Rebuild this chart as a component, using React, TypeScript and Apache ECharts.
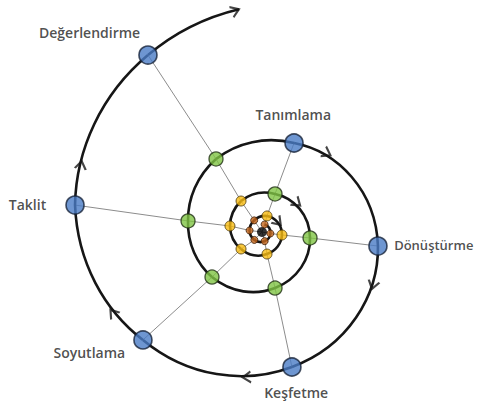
import React, { useEffect, useRef } from 'react';
import * as echarts from 'echarts';

// Stage names on the outer turn (one per spoke)
const stageNames = ['Tanımlama', 'Dönüştürme', 'Keşfetme', 'Soyutlama', 'Taklit', 'Değerlendirme'];

// Each ring: radius (px-units) and angle (deg, counter-clockwise from east)
const blueRadius = [94.6, 116.8, 138.3, 160.7, 188.9, 210.5];
const blueAngle = [70.2, 353.1, 282.5, 222.2, 171.8, 122.8];
const greenRadius = [40.2, 48.4, 57.5, 67.3, 74.8, 86.3];
const greenAngle = [71.1, 352.9, 283.1, 222.0, 171.5, 122.2];
const yellowRadius = [16.8, 20.2, 22.6, 27.0, 32.6, 37.4];
const yellowAngle = [72.6, 351.5, 282.8, 219.0, 169.4, 124.1];
const orangeRadius = [8.0, 8.5, 9.5, 11.0, 12.5, 14.0];
const orangeAngle = [71.0, 350.0, 286.0, 226.0, 173.0, 124.0];

// End of the spiral (arrow tip)
const spiralEnd = [224, 95.9];

// Arrowheads along the spiral: [radius, angle]
const arrowPoints = [
  [102, 50.5],
  [123, 334.5],
  [146, 264.0],
  [169.6, 208.5],
  [193, 159.7],
  [45.5, 39.6],
  [18.9, 32.0],
];
const endArrow = [223, 96.9];

const ring = (r: number[], a: number[]) => r.map((v, i) => [v, a[i]]);

export default function App() {
  const ref = useRef<HTMLDivElement>(null);

  useEffect(() => {
    if (!ref.current) return;
    const chart = echarts.init(ref.current, null, { renderer: 'svg' });

    const orange = ring(orangeRadius, orangeAngle);
    const yellow = ring(yellowRadius, yellowAngle);
    const green = ring(greenRadius, greenAngle);
    const blue = ring(blueRadius, blueAngle);

    const spiralPts = [...orange, ...yellow, ...green, ...blue, spiralEnd];
    // consecutive segments of the spiral: [r1, a1, r2, a2]
    const segments = spiralPts.slice(0, -1).map((p, i) => [p[0], p[1], spiralPts[i + 1][0], spiralPts[i + 1][1]]);

    const spokeSeries = stageNames.map((_, i) => ({
      type: 'line',
      coordinateSystem: 'polar',
      data: [[0, orangeAngle[i]], orange[i], yellow[i], green[i], blue[i]],
      symbol: 'none',
      lineStyle: { color: '#8c8c8c', width: 1 },
      silent: true,
      z: 1,
    }));

    const labelPos: Record<string, any> = {
      'Tanımlama': { position: [9, -19], align: 'center', size: 14 },
      'Dönüştürme': { position: [26, 9], align: 'left', size: 13 },
      'Keşfetme': { position: [14, 35], align: 'center', size: 14 },
      'Soyutlama': { position: [-8, 22], align: 'right', size: 14 },
      'Taklit': { position: [-19, 9], align: 'right', size: 14 },
      'Değerlendirme': { position: [2, -13], align: 'right', size: 14 },
    };

    const chevron = 'path://M0,0L10,6L0,12';

    const renderSpiral = (_params: any, api: any) => {
      const r1 = api.value(0), a1 = api.value(1), r2 = api.value(2), a2 = api.value(3);
      const c = api.coord([0, 0]);
      const p1 = api.coord([r1, a1]);
      const p2 = api.coord([r2, a2]);
      const span = (((a1 - a2) % 360) + 360) % 360;
      const d = (span * Math.PI) / 180;
      const psi = Math.atan(Math.log(r2 / r1) / d);
      const k = ((4 / 3) * Math.tan(d / 4)) / Math.cos(psi);
      const handle = (p: number[]) => {
        const dx = p[0] - c[0], dy = p[1] - c[1];
        const rp = Math.hypot(dx, dy);
        const ux = dx / rp, uy = dy / rp;
        const tx = -uy, ty = ux; // clockwise direction on screen
        const hx = Math.cos(psi) * tx + Math.sin(psi) * ux;
        const hy = Math.cos(psi) * ty + Math.sin(psi) * uy;
        return [hx * k * rp, hy * k * rp];
      };
      const h1 = handle(p1);
      const h2 = handle(p2);
      return {
        type: 'bezierCurve',
        shape: {
          x1: p1[0], y1: p1[1],
          x2: p2[0], y2: p2[1],
          cpx1: p1[0] + h1[0], cpy1: p1[1] + h1[1],
          cpx2: p2[0] - h2[0], cpy2: p2[1] - h2[1],
        },
        style: { stroke: '#161616', lineWidth: 2.6, fill: 'none' },
      };
    };

    const option: any = {
      animation: false,
      polar: { center: [262, 232], radius: 230 },
      radiusAxis: {
        type: 'value', min: 0, max: 230,
        axisLine: { show: false }, axisTick: { show: false },
        axisLabel: { show: false }, splitLine: { show: false },
      },
      angleAxis: {
        type: 'value', min: 0, max: 360, startAngle: 0, clockwise: false,
        axisLine: { show: false }, axisTick: { show: false },
        axisLabel: { show: false }, splitLine: { show: false },
      },
      series: [
        ...spokeSeries,
        {
          type: 'custom',
          coordinateSystem: 'polar',
          data: segments,
          renderItem: renderSpiral,
          silent: true,
          z: 2,
        },
        {
          type: 'scatter',
          coordinateSystem: 'polar',
          data: [...arrowPoints.map((p) => ({ value: p, symbolRotate: p[1] - 90 + 10 })),
            { value: endArrow, symbolRotate: 22 }],
          symbol: chevron,
          symbolSize: [8, 11],
          itemStyle: { color: 'transparent', borderColor: '#161616', borderWidth: 2 },
          silent: true,
          z: 3,
        },
        {
          type: 'scatter',
          coordinateSystem: 'polar',
          data: [[0, 0]],
          symbolSize: 10,
          itemStyle: { color: '#000000' },
          silent: true,
          z: 4,
        },
        {
          type: 'scatter',
          coordinateSystem: 'polar',
          data: orange,
          symbolSize: 7,
          itemStyle: { color: '#c4661c', borderColor: '#3a1c06', borderWidth: 1 },
          silent: true,
          z: 4,
        },
        {
          type: 'scatter',
          coordinateSystem: 'polar',
          data: yellow,
          symbolSize: 10,
          itemStyle: { color: '#f7bb12', borderColor: '#4a3608', borderWidth: 1 },
          silent: true,
          z: 4,
        },
        {
          type: 'scatter',
          coordinateSystem: 'polar',
          data: green,
          symbolSize: 14,
          itemStyle: { color: '#80c444', borderColor: '#1e2e12', borderWidth: 1.3 },
          silent: true,
          z: 4,
        },
        {
          type: 'scatter',
          coordinateSystem: 'polar',
          data: blue.map((v, i) => ({
            name: stageNames[i],
            value: v,
            label: {
              show: true,
              formatter: '{b}',
              position: labelPos[stageNames[i]].position,
              align: labelPos[stageNames[i]].align,
              verticalAlign: 'middle',
              fontFamily: 'Open Sans',
              fontWeight: 600,
              fontSize: labelPos[stageNames[i]].size,
              color: '#222222',
            },
          })),
          symbolSize: 18,
          itemStyle: { color: '#4a7cc6', borderColor: '#17233a', borderWidth: 1.6 },
          silent: true,
          z: 5,
        },
      ],
    };

    chart.setOption(option);
    return () => chart.dispose();
  }, []);

  return (
    <div
      ref={ref}
      style={{ position: 'fixed', left: 0, top: 0, width: 480, height: 407, background: '#ffffff' }}
    />
  );
}
